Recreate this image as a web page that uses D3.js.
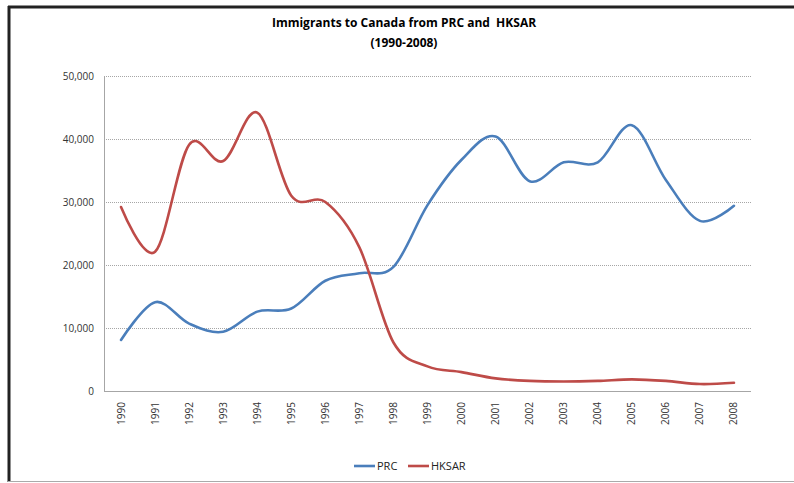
<!DOCTYPE html>
<html>
<head>
<meta charset="utf-8">
<style>
  body { margin: 0; background: #fff; overflow: hidden; }
  .title { font: bold 12px "Open Sans", sans-serif; fill: #000; text-anchor: middle; }
  .tick text { font: 10px "Open Sans", sans-serif; fill: #333; }
  .legend text { font: 11px "Open Sans", sans-serif; fill: #222; }
</style>
<script src="https://d3js.org/d3.v7.min.js"></script>
</head>
<body>
<svg width="794" height="483"></svg>
<script>
var years = ["1990","1991","1992","1993","1994","1995","1996","1997","1998","1999",
             "2000","2001","2002","2003","2004","2005","2006","2007","2008"];
var prc = [8100, 14100, 10700, 9400, 12600, 13100, 17500, 18700, 19700, 29500,
           36700, 40400, 33300, 36300, 36300, 42200, 33500, 27000, 29400];
var hksar = [29200, 22100, 39100, 36500, 44200, 31000, 30000, 22800, 7700, 3900,
             3000, 2000, 1600, 1500, 1600, 1850, 1600, 1100, 1300];
var yTicks = [0, 10000, 20000, 30000, 40000, 50000];
var seriesNames = ["PRC", "HKSAR"];
var seriesColors = ["#4a7ebb", "#be4b48"];

var svg = d3.select("svg");

// outer frame
svg.append("line").attr("x1", 8).attr("x2", 794).attr("y1", 7).attr("y2", 7)
    .attr("stroke", "#222").attr("stroke-width", 3);
svg.append("line").attr("x1", 9).attr("x2", 9).attr("y1", 6).attr("y2", 482)
    .attr("stroke", "#222").attr("stroke-width", 3);
svg.append("line").attr("x1", 8).attr("x2", 794).attr("y1", 481.5).attr("y2", 481.5)
    .attr("stroke", "#aaa").attr("stroke-width", 1);

var plotLeft = 104, plotRight = 751, plotTop = 76, plotBottom = 391;

var x = d3.scaleBand().domain(years).range([plotLeft, plotRight]);
var y = d3.scaleLinear().domain([0, 50000]).range([plotBottom, plotTop]);

// gridlines
svg.append("g").selectAll("line")
    .data(yTicks.slice(1))
    .enter().append("line")
    .attr("x1", plotLeft).attr("x2", plotRight)
    .attr("y1", function (d) { return y(d) + 0.5; })
    .attr("y2", function (d) { return y(d) + 0.5; })
    .attr("stroke", "#a6a6a6")
    .attr("stroke-dasharray", "1,1");

// y axis
var yAxis = svg.append("g")
    .attr("transform", "translate(" + plotLeft + ",0)")
    .call(d3.axisLeft(y).tickValues(yTicks).tickSize(0).tickPadding(10)
        .tickFormat(d3.format(",")));
yAxis.select(".domain").attr("stroke", "#a6a6a6")
    .attr("d", "M0.5," + plotTop + "V" + plotBottom);

// x axis
var xAxis = svg.append("g")
    .attr("transform", "translate(0," + plotBottom + ")")
    .call(d3.axisBottom(x).tickSize(0));
xAxis.select(".domain").attr("stroke", "#a6a6a6")
    .attr("d", "M" + plotLeft + ",0.5H" + plotRight);
xAxis.selectAll(".tick text")
    .attr("transform", "rotate(-90)")
    .attr("text-anchor", "end")
    .attr("x", -11)
    .attr("y", 0)
    .attr("dy", "0.35em");

// lines
var line = d3.line()
    .x(function (d, i) { return x(years[i]) + x.bandwidth() / 2; })
    .y(function (d) { return y(d); })
    .curve(d3.curveCatmullRom.alpha(0));

[prc, hksar].forEach(function (vals, i) {
    svg.append("path")
        .datum(vals)
        .attr("d", line)
        .attr("fill", "none")
        .attr("stroke", seriesColors[i])
        .attr("stroke-width", 2.6)
        .attr("stroke-linecap", "round");
});

// title
svg.append("text").attr("class", "title").attr("x", 404).attr("y", 27)
    .text("Immigrants to Canada from PRC and\u00a0\u00a0HKSAR");
svg.append("text").attr("class", "title").attr("x", 404).attr("y", 47)
    .text("(1990-2008)");

// legend
var legendX = [354, 408];
var legend = svg.append("g").attr("class", "legend");
seriesNames.forEach(function (name, i) {
    legend.append("line")
        .attr("x1", legendX[i]).attr("x2", legendX[i] + 21)
        .attr("y1", 466).attr("y2", 466)
        .attr("stroke", seriesColors[i]).attr("stroke-width", 2.6);
    legend.append("text")
        .attr("x", legendX[i] + 23).attr("y", 470)
        .text(name);
});
</script>
</body>
</html>
